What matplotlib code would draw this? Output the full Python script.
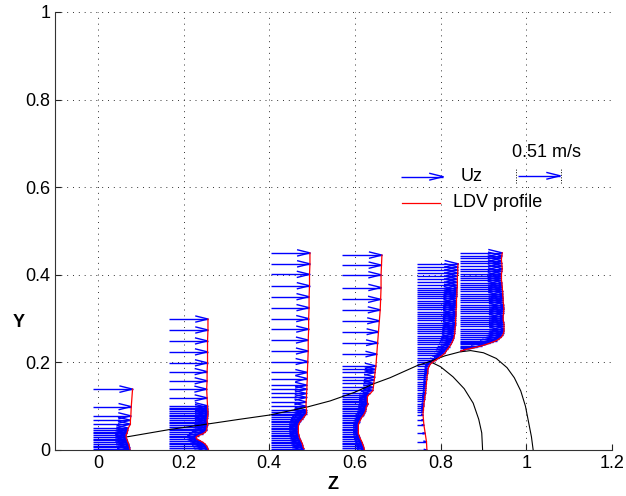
import matplotlib
matplotlib.use("Agg")
import matplotlib.pyplot as plt
from matplotlib.collections import LineCollection

plt.rcParams.update({
    "font.family": ["Liberation Sans", "DejaVu Sans"],
    "font.size": 13,
    "axes.linewidth": 0.8,
})

# arrow bases (Z station of each LDV profile)
Z_BASE = [-0.012, 0.167, 0.404, 0.571, 0.745, 0.845]

# arrow lengths are in Z units (0.51 m/s ~ 0.098)
Y1 = [0.139, 0.099, 0.078, 0.068, 0.059, 0.050, 0.046, 0.042, 0.038, 0.034, 0.030,
      0.026, 0.022, 0.018, 0.014, 0.010, 0.006, 0.002]
U1 = [0.093, 0.090, 0.089, 0.088, 0.088, 0.083, 0.082, 0.081, 0.080, 0.078, 0.078,
      0.079, 0.081, 0.082, 0.084, 0.085, 0.086, 0.087]

Y2 = [0.299, 0.274, 0.249, 0.224, 0.199, 0.179, 0.158, 0.139, 0.119,
      0.101, 0.097, 0.093, 0.089, 0.085, 0.081, 0.077, 0.073, 0.069, 0.065, 0.061, 0.057,
      0.053, 0.049, 0.045, 0.041, 0.037, 0.033, 0.029, 0.025, 0.021, 0.017, 0.013, 0.009,
      0.005, 0.001]
U2 = [0.090, 0.090, 0.089, 0.089, 0.089, 0.088, 0.088, 0.087, 0.088,
      0.089, 0.089, 0.089, 0.090, 0.090, 0.090, 0.089, 0.089, 0.088, 0.088, 0.089, 0.089,
      0.088, 0.087, 0.087, 0.084, 0.078, 0.068, 0.062, 0.064, 0.072, 0.079, 0.084, 0.087,
      0.089, 0.091]

Y3 = [0.450, 0.425, 0.401, 0.375, 0.350, 0.325, 0.300, 0.276, 0.251, 0.226, 0.202, 0.177,
      0.163, 0.148, 0.139, 0.129, 0.120, 0.110, 0.100, 0.091,
      0.087, 0.083, 0.079, 0.075, 0.071, 0.067, 0.063, 0.059, 0.055, 0.051, 0.047, 0.043,
      0.039, 0.035, 0.031, 0.027, 0.023, 0.019, 0.015, 0.011, 0.007, 0.003]
U3 = [0.091, 0.091, 0.090, 0.090, 0.089, 0.089, 0.088, 0.088, 0.087, 0.087, 0.086, 0.085,
      0.085, 0.084, 0.084, 0.083, 0.083, 0.082, 0.082, 0.083,
      0.083, 0.083, 0.080, 0.077, 0.074, 0.070, 0.067, 0.065, 0.064, 0.064, 0.064, 0.064,
      0.064, 0.065, 0.066, 0.067, 0.069, 0.071, 0.073, 0.074, 0.075, 0.077]

Y4 = [0.445, 0.422, 0.400, 0.371, 0.344, 0.320, 0.295, 0.270, 0.245, 0.219, 0.192, 0.184,
      0.177, 0.167, 0.160, 0.152, 0.143, 0.136,
      0.129, 0.125, 0.121, 0.117, 0.113, 0.109, 0.105, 0.101, 0.097, 0.093, 0.089, 0.085,
      0.081, 0.077, 0.073, 0.069, 0.065, 0.061, 0.057, 0.053, 0.049, 0.045, 0.041, 0.037,
      0.033, 0.029, 0.025, 0.021, 0.017, 0.013, 0.009, 0.005, 0.001]
U4 = [0.092, 0.091, 0.090, 0.090, 0.089, 0.088, 0.086, 0.084, 0.082, 0.080, 0.078, 0.077,
      0.076, 0.075, 0.074, 0.073, 0.072, 0.071,
      0.065, 0.060, 0.058, 0.058, 0.058, 0.058, 0.060, 0.057, 0.055, 0.055, 0.054, 0.052,
      0.050, 0.047, 0.044, 0.042, 0.040, 0.038, 0.037, 0.037, 0.037, 0.037, 0.037, 0.037,
      0.039, 0.040, 0.042, 0.044, 0.046, 0.047, 0.049, 0.050, 0.051]

Y5 = [0.425, 0.418, 0.411, 0.404, 0.397, 0.390, 0.383, 0.376, 0.371, 0.366, 0.361, 0.356,
      0.351, 0.346, 0.341, 0.336, 0.331, 0.326, 0.321, 0.316, 0.311, 0.306, 0.301, 0.296,
      0.291, 0.286, 0.281, 0.276, 0.271, 0.266, 0.261, 0.256, 0.251, 0.246, 0.241, 0.236,
      0.231, 0.226, 0.221, 0.216, 0.211, 0.206, 0.201, 0.196, 0.191, 0.186, 0.181, 0.176,
      0.171, 0.166, 0.161, 0.156, 0.151, 0.146, 0.141, 0.136, 0.131, 0.126, 0.121, 0.116,
      0.111, 0.106, 0.101, 0.096, 0.091, 0.086, 0.080, 0.068, 0.057, 0.038, 0.019, 0.000]
U5 = [0.096, 0.095, 0.095, 0.095, 0.094, 0.094, 0.094, 0.094, 0.094, 0.093, 0.093, 0.093,
      0.093, 0.092, 0.092, 0.092, 0.092, 0.092, 0.091, 0.091, 0.091, 0.091, 0.090, 0.090,
      0.090, 0.090, 0.089, 0.089, 0.088, 0.088, 0.087, 0.086, 0.084, 0.082, 0.079, 0.076,
      0.072, 0.068, 0.065, 0.059, 0.052, 0.045, 0.037, 0.031, 0.028, 0.026, 0.025, 0.025,
      0.024, 0.023, 0.023, 0.022, 0.022, 0.021, 0.021, 0.020, 0.020, 0.019, 0.018, 0.018,
      0.017, 0.016, 0.016, 0.015, 0.015, 0.014, 0.014, 0.015, 0.016, 0.019, 0.022, 0.023]

Y6 = [0.450, 0.444, 0.438, 0.432, 0.426, 0.420, 0.414, 0.408, 0.402, 0.397, 0.392, 0.387,
      0.382, 0.377, 0.372, 0.367, 0.362, 0.357, 0.352, 0.347, 0.342, 0.337, 0.332, 0.327,
      0.322, 0.317, 0.312, 0.307, 0.302, 0.297, 0.292, 0.287, 0.282, 0.277, 0.272, 0.267,
      0.262, 0.258, 0.254, 0.250, 0.247, 0.244, 0.241, 0.238, 0.235, 0.232, 0.229, 0.226]
U6 = [0.099, 0.098, 0.097, 0.097, 0.098, 0.098, 0.099, 0.098, 0.097, 0.097, 0.097, 0.097,
      0.098, 0.098, 0.099, 0.099, 0.100, 0.100, 0.100, 0.101, 0.101, 0.101, 0.102, 0.102,
      0.103, 0.102, 0.102, 0.101, 0.101, 0.101, 0.102, 0.103, 0.103, 0.103, 0.103, 0.102,
      0.100, 0.097, 0.092, 0.086, 0.078, 0.070, 0.061, 0.051, 0.039, 0.026, 0.012, 0.002]

PROFILES = [(Y1, U1), (Y2, U2), (Y3, U3), (Y4, U4), (Y5, U5), (Y6, U6)]

# black contour lines
LINE_Z = [0.068, 0.169, 0.254, 0.330, 0.402, 0.488, 0.542, 0.600, 0.643, 0.682, 0.746,
          0.775, 0.810, 0.845, 0.870, 0.900, 0.930, 0.955, 0.972, 0.987, 0.998, 1.006,
          1.012, 1.016]
LINE_Y = [0.030, 0.047, 0.059, 0.070, 0.080, 0.098, 0.112, 0.132, 0.151, 0.165, 0.193,
          0.202, 0.215, 0.224, 0.227, 0.222, 0.209, 0.188, 0.165, 0.135, 0.100, 0.060,
          0.030, 0.000]
ARC_Z = [0.775, 0.800, 0.829, 0.855, 0.876, 0.889, 0.896, 0.898]
ARC_Y = [0.202, 0.190, 0.167, 0.140, 0.107, 0.070, 0.039, 0.000]

SCALE_LEN = 0.098   # arrow length for 0.51 m/s


def arrow_segs(z0, ys, us, alpha=0.33, beta=0.08):
    # matlab-like quiver arrows: shaft + open head
    segs = []
    for y, u in zip(ys, us):
        tip = z0 + u
        segs.append([(z0, y), (tip, y)])
        segs.append([(tip - alpha * u, y + beta * u), (tip, y), (tip - alpha * u, y - beta * u)])
    return segs


def blue_arrows(z0, ys, us):
    return LineCollection(arrow_segs(z0, ys, us), colors="#0000ff", linewidths=1.0, zorder=3)


fig = plt.figure(figsize=(6.26, 4.96), dpi=100)
ax = fig.add_axes([55 / 626, 46 / 496, 557 / 626, 438 / 496])

ax.plot(LINE_Z, LINE_Y, color="k", lw=0.8, zorder=4)
ax.plot(ARC_Z, ARC_Y, color="k", lw=0.8, zorder=4)

for z0, (ys, us) in zip(Z_BASE, PROFILES):
    ax.add_collection(blue_arrows(z0, ys, us))
    ax.plot([z0 + u for u in us], ys, color="#ff0000", lw=0.9, zorder=5)

# legend drawn in data coordinates (like the original)
ax.add_collection(blue_arrows(0.707, [0.624], [0.099]))
ax.text(0.846, 0.615, "Uz", ha="left", va="baseline")
ax.plot([0.709, 0.799], [0.563, 0.563], color="#ff0000", lw=0.9)
ax.text(0.828, 0.554, "LDV profile", ha="left", va="baseline")

# velocity scale
ax.add_collection(blue_arrows(0.981, [0.626], [SCALE_LEN]))
for zt in (0.976, 1.081):
    ax.plot([zt, zt], [0.609, 0.643], color="k", lw=0.7, ls=":")
ax.text(0.967, 0.669, "0.51 m/s", ha="left", va="baseline")

ax.set_xlim(-0.1, 1.2)
ax.set_ylim(0, 1)
ax.set_xticks([0, 0.2, 0.4, 0.6, 0.8, 1.0, 1.2])
ax.set_xticklabels(["0", "0.2", "0.4", "0.6", "0.8", "1", "1.2"])
ax.set_yticks([0, 0.2, 0.4, 0.6, 0.8, 1.0])
ax.set_yticklabels(["0", "0.2", "0.4", "0.6", "0.8", "1"])
ax.tick_params(direction="in", length=4, width=0.8, pad=3.5, colors="#222222",
               labelcolor="k")
ax.spines["top"].set_visible(False)
ax.spines["right"].set_visible(False)
for s in ("left", "bottom"):
    ax.spines[s].set_color("#333333")
ax.grid(True, color="#333333", lw=0.7, ls=(0, (1, 5)))
ax.set_axisbelow(True)

ax.set_xlabel("Z", fontweight="bold", va="center")
ax.xaxis.set_label_coords(0.5, -0.078)
ax.set_ylabel("Y", fontweight="bold", rotation=0, va="center", ha="center")
ax.yaxis.set_label_coords(-0.066, 0.29)

fig.savefig("out.png", dpi=100)
